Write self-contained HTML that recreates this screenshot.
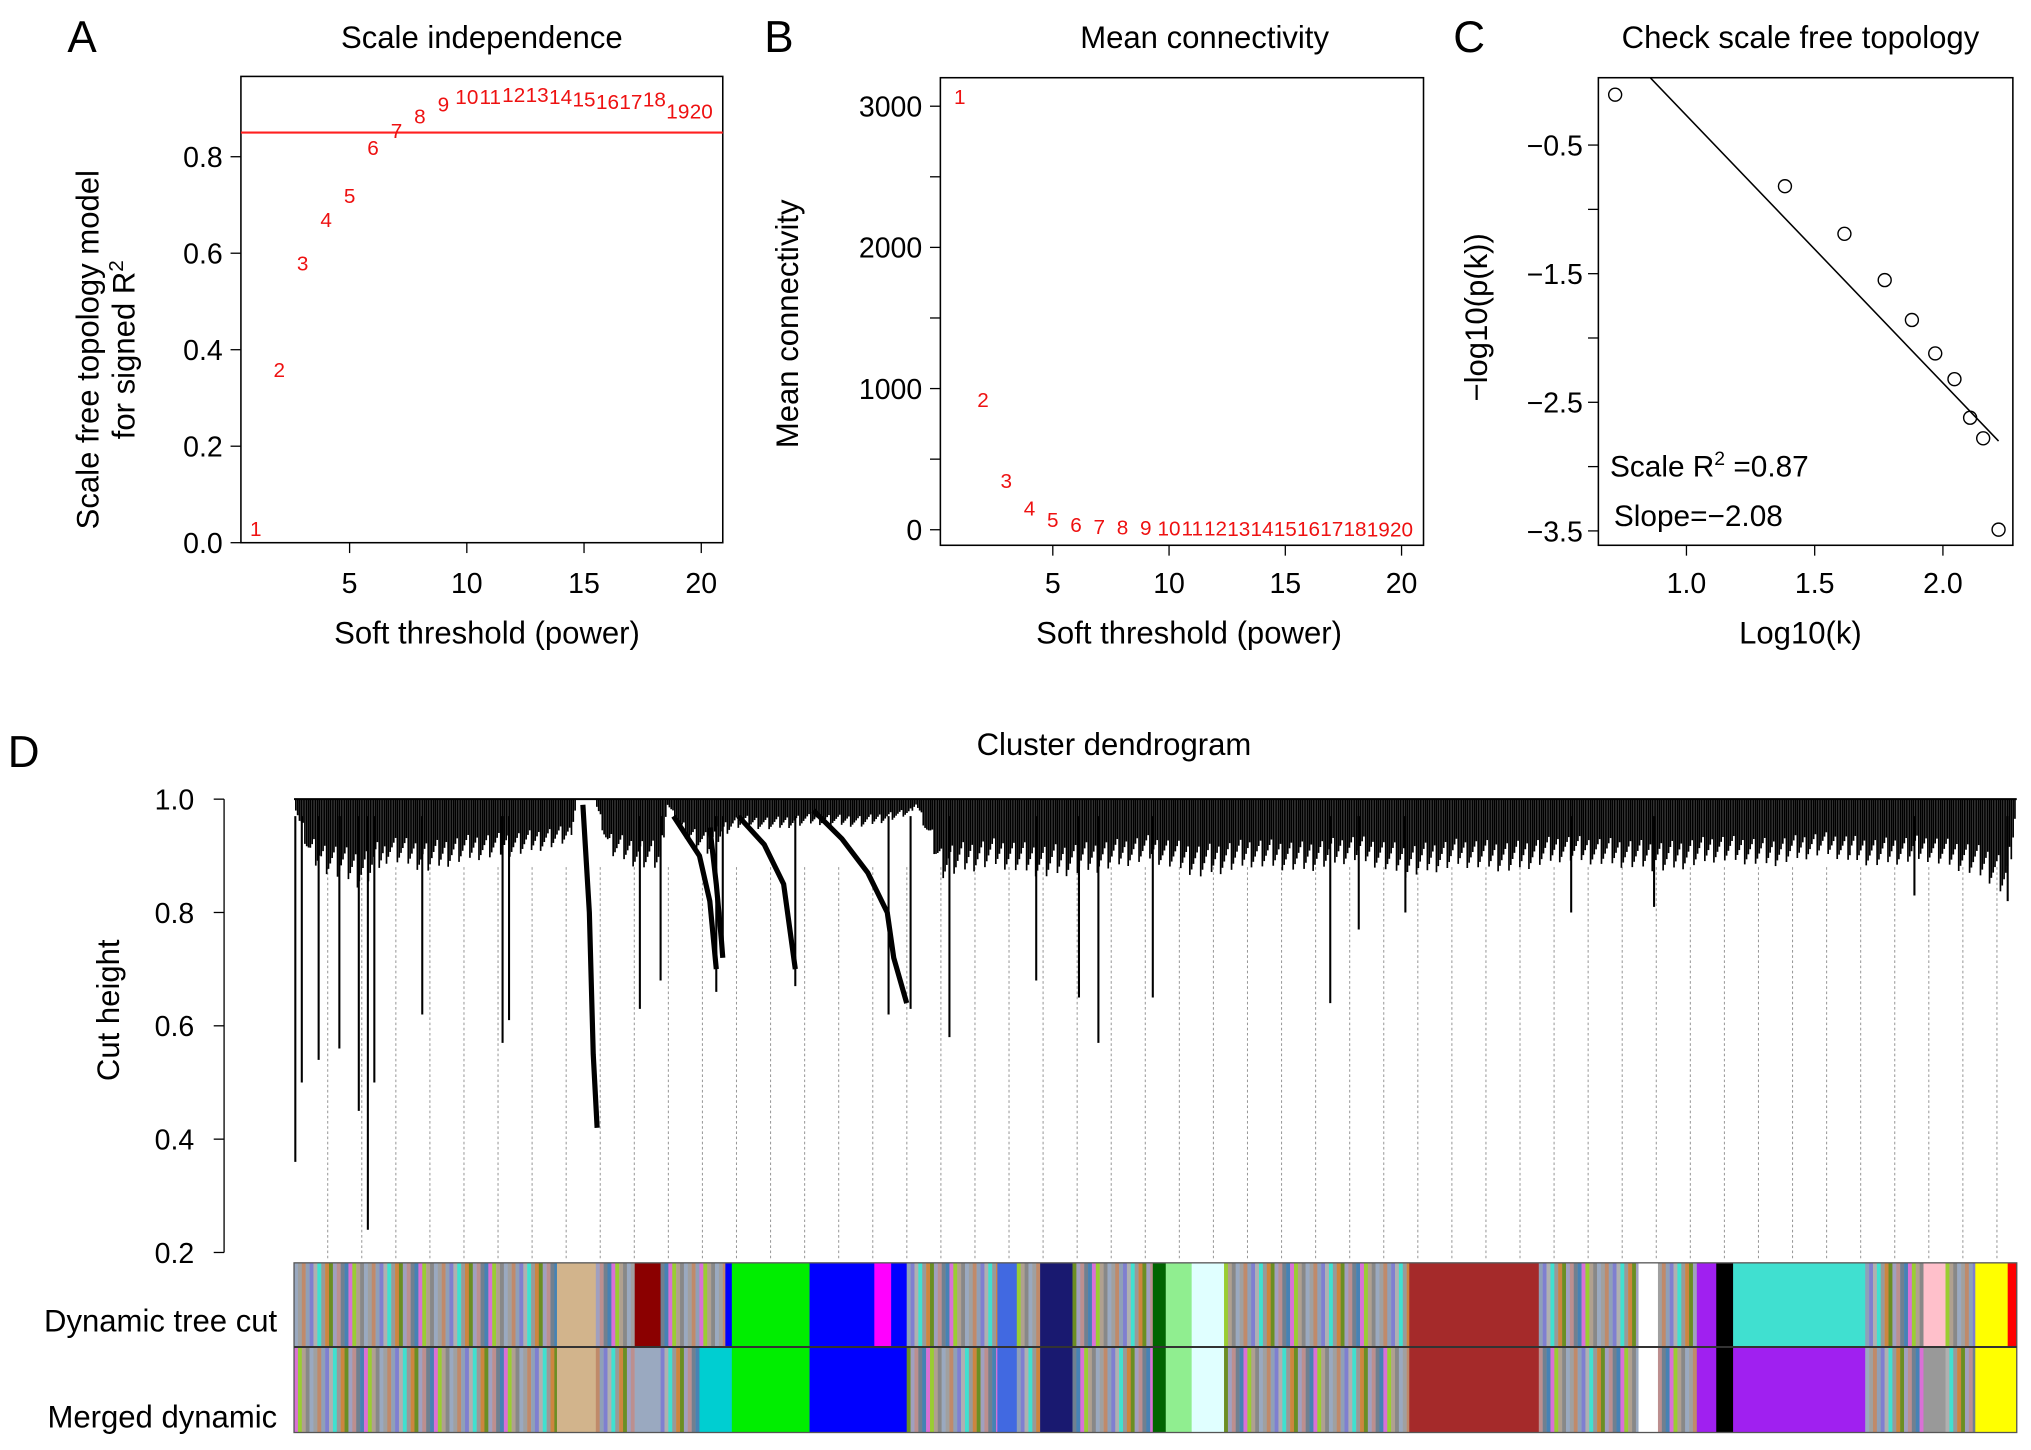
<!DOCTYPE html>
<html><head><meta charset="utf-8"><style>
html,body{margin:0;padding:0;background:#fff;}
svg{display:block;font-family:"Liberation Sans",Arial,sans-serif;}
</style></head><body>
<svg id="fig" width="2031" height="1450" viewBox="0 0 1568 1119.5" preserveAspectRatio="none" xmlns="http://www.w3.org/2000/svg">
<rect width="1568" height="1120" fill="#fff"/>
<g id="gA"></g>
<g id="gB"></g>
<g id="gC"></g>
<g id="gD"></g>
</svg>
<script>
// ---- data ----
const powers = [1,2,3,4,5,6,7,8,9,10,11,12,13,14,15,16,17,18,19,20];
const sftR2 = [0.03,0.36,0.58,0.67,0.72,0.82,0.855,0.885,0.91,0.925,0.925,0.93,0.93,0.925,0.92,0.915,0.915,0.92,0.895,0.895];
const meanK = [3070,925,350,155,75,40,25,20,17,15,14,13,12,11,10,10,9,9,8,8];
const logK = [0.722,1.384,1.616,1.773,1.879,1.97,2.045,2.106,2.157,2.217];
const logPk = [-0.108,-0.82,-1.19,-1.55,-1.86,-2.12,-2.32,-2.62,-2.78,-3.49];
const fitIntercept = 1.81;
const fitSlope = -2.08;
const r2Cut = 0.85;
const aYTicks = [0,0.2,0.4,0.6,0.8];
const aXTicks = [5,10,15,20];
const bYTicks = [0,1000,2000,3000];
const cYTicks = [-0.5,-1.5,-2.5,-3.5];
const cXTicks = [1.0,1.5,2.0];
const dYTicks = [0.2,0.4,0.6,0.8,1.0];
// dendrogram deep spikes: leaf coordinate (0..1330) and min height
const spikeLeaf = [1,6,19,35,50,57,62,99,161,166,267,283,326,331,387,459,476,506,573,606,621,663,800,822,858,986,1050,1251,1323];
const spikeHeight = [0.36,0.5,0.54,0.56,0.45,0.24,0.5,0.62,0.57,0.61,0.63,0.68,0.66,0.73,0.67,0.62,0.63,0.58,0.68,0.65,0.57,0.65,0.64,0.77,0.8,0.8,0.81,0.83,0.82];
// dendrogram envelope (leaf coordinate, lower height of dense mass)
const envLeaf = [0,13,33,53,73,103,133,173,213,218,222,233,243,263,283,288,300,320,335,345,370,400,440,475,480,500,540,580,620,660,700,740,780,820,860,900,940,980,1020,1060,1100,1140,1180,1220,1260,1290,1310,1323,1330];
const envHeight = [0.99,0.88,0.86,0.84,0.89,0.87,0.89,0.9,0.92,0.99,1.0,0.99,0.9,0.88,0.87,0.99,0.93,0.9,0.94,0.95,0.945,0.955,0.95,0.97,0.99,0.86,0.88,0.86,0.87,0.89,0.86,0.88,0.87,0.89,0.86,0.88,0.87,0.89,0.88,0.87,0.89,0.88,0.9,0.88,0.89,0.87,0.85,0.82,0.99];
// color block segments [start leaf, end leaf, top color, bottom color] ('S' = striped)
const blockStart = [0,203,233,263,283,313,333,338,398,448,461,473,543,558,576,601,663,673,693,718,861,961,1038,1053,1083,1098,1111,1213,1258,1275,1298,1323];
const blockEnd   = [203,233,263,283,313,333,338,398,448,461,473,543,558,576,601,663,673,693,718,861,961,1038,1053,1083,1098,1111,1213,1258,1275,1298,1323,1330];
const blockTop   = ['S','#d2b48c','S','#8b0000','S','S','#0000ff','#00ee00','#0000ff','#ff00ff','#0000ff','S','#4169e1','S','#191970','S','#006400','#90ee90','#e0ffff','S','#a52a2a','S','#ffffff','S','#a020f0','#000000','#40e0d0','S','#ffc0cb','S','#ffff00','#ff0000'];
const blockBot   = ['S','#d2b48c','S','#9aa9c0','S','#00ced1','#00ced1','#00ee00','#0000ff','#0000ff','#0000ff','S','#4169e1','S','#191970','S','#006400','#90ee90','#e0ffff','S','#a52a2a','S','#ffffff','S','#a020f0','#000000','#a020f0','S','#999999','S','#ffff00','#ffff00'];
const stripePalette = ['#9aa9c0','#a0a0a0','#c08a6a','#8fa0b8','#7f7fd0','#b0b0b0','#40e0d0','#999999','#cd853f','#6b8e23','#a0a0c0','#bc8f8f','#708090','#4682b4','#da70d6','#9acd32','#b0a090','#888888'];

const NS='http://www.w3.org/2000/svg';
function mk(parent,tag,attrs,text){const e=document.createElementNS(NS,tag);for(const k in attrs)e.setAttribute(k,attrs[k]);if(text!==undefined)e.textContent=text;parent.appendChild(e);return e;}

// ===== Panel A =====
(function(){
const g=document.getElementById('gA');
const L=186,R=558,T=59,B=419;
const sx=v=>197.5+(v-1)*18.1, sy=v=>419-v*372.5;
let e;
e=mk(g,'text',{x:52,y:40,'font-size':34});e.textContent='A';


e=mk(g,'text',{x:372,y:37,'font-size':24,'text-anchor':'middle'},'Scale independence');


e=mk(g,'rect',{x:L,y:T,width:R-L,height:B-T,fill:'none',stroke:'#000','stroke-width':1.2});


aYTicks.forEach(v=>{mk(g,'line',{x1:L-8,x2:L,y1:sy(v),y2:sy(v),stroke:'#000'});
 e=mk(g,'text',{x:L-14,y:sy(v)+8,'font-size':22,'text-anchor':'end'},v.toFixed(1));
 
 });
aXTicks.forEach(v=>{mk(g,'line',{x1:sx(v),x2:sx(v),y1:B,y2:B+8,stroke:'#000'});
 e=mk(g,'text',{x:sx(v),y:458,'font-size':22,'text-anchor':'middle'},String(v));
 
 });
e=mk(g,'text',{x:376,y:497,'font-size':24,'text-anchor':'middle'},'Soft threshold (power)');


e=mk(g,'text',{transform:'translate(76,270) rotate(-90)','font-size':24,'text-anchor':'middle'},'Scale free topology model');


e=mk(g,'text',{transform:'translate(104,270) rotate(-90)','font-size':24,'text-anchor':'middle'});
e.innerHTML='for signed R<tspan font-size="16" dy="-9">2</tspan>';


e=mk(g,'line',{x1:L,x2:R,y1:sy(r2Cut),y2:sy(r2Cut),stroke:'#ff2020','stroke-width':1.6});


powers.forEach((p,i)=>{e=mk(g,'text',{x:sx(p),y:sy(sftR2[i])+6,'font-size':16,fill:'#ee1111','text-anchor':'middle'},String(p));
 
 });
})();

// ===== Panel B =====
(function(){
const g=document.getElementById('gB');
const L=726,R=1099,T=60,B=421;
const sx=v=>741+(v-1)*17.95, sy=v=>409-v*0.109;
let e;
e=mk(g,'text',{x:590,y:40,'font-size':34},'B');


e=mk(g,'text',{x:930,y:37,'font-size':24,'text-anchor':'middle'},'Mean connectivity');


e=mk(g,'rect',{x:L,y:T,width:R-L,height:B-T,fill:'none',stroke:'#000','stroke-width':1.2});


for(let v=0;v<=3000;v+=500)mk(g,'line',{x1:L-8,x2:L,y1:sy(v),y2:sy(v),stroke:'#000'});
bYTicks.forEach(v=>{e=mk(g,'text',{x:L-14,y:sy(v)+8,'font-size':22,'text-anchor':'end'},String(v));
 
 });
aXTicks.forEach(v=>{mk(g,'line',{x1:sx(v),x2:sx(v),y1:B,y2:B+8,stroke:'#000'});
 e=mk(g,'text',{x:sx(v),y:458,'font-size':22,'text-anchor':'middle'},String(v));
 
 });
e=mk(g,'text',{x:918,y:497,'font-size':24,'text-anchor':'middle'},'Soft threshold (power)');


e=mk(g,'text',{transform:'translate(616,250) rotate(-90)','font-size':24,'text-anchor':'middle'},'Mean connectivity');


powers.forEach((p,i)=>{e=mk(g,'text',{x:sx(p),y:sy(meanK[i])+6,'font-size':16,fill:'#ee1111','text-anchor':'middle'},String(p));
 
 });
})();

// ===== Panel C =====
(function(){
const g=document.getElementById('gC');
const L=1234,R=1554,T=60,B=421;
const sx=v=>1302+(v-1)*198, sy=v=>112-(v+0.5)*99.3;
let e;
e=mk(g,'text',{x:1122,y:40,'font-size':34},'C');


e=mk(g,'text',{x:1390,y:37,'font-size':24,'text-anchor':'middle'},'Check scale free topology');


e=mk(g,'rect',{x:L,y:T,width:R-L,height:B-T,fill:'none',stroke:'#000','stroke-width':1.2});


for(let v=-0.5;v>=-3.5;v-=0.5)mk(g,'line',{x1:L-8,x2:L,y1:sy(v),y2:sy(v),stroke:'#000'});
cYTicks.forEach(v=>{e=mk(g,'text',{x:L-12,y:sy(v)+8,'font-size':22,'text-anchor':'end'},(v<0?'\u2212':'')+Math.abs(v).toFixed(1));
 
 });
cXTicks.forEach(v=>{mk(g,'line',{x1:sx(v),x2:sx(v),y1:B,y2:B+8,stroke:'#000'});
 e=mk(g,'text',{x:sx(v),y:458,'font-size':22,'text-anchor':'middle'},v.toFixed(1));
 
 });
e=mk(g,'text',{x:1390,y:497,'font-size':24,'text-anchor':'middle'},'Log10(k)');


e=mk(g,'text',{transform:'translate(1148,245) rotate(-90)','font-size':24,'text-anchor':'middle'},'\u2212log10(p(k))');


const x0=logK[0]-0.02, x1=logK[logK.length-1];
let ya=fitIntercept+fitSlope*x0, xa=x0;
const yTop=-0.5+(112-T)/99.3;
if(ya>yTop){ya=yTop;xa=(yTop-fitIntercept)/fitSlope;}
e=mk(g,'line',{x1:sx(xa),y1:sy(ya),x2:sx(x1),y2:sy(fitIntercept+fitSlope*x1),stroke:'#000','stroke-width':1.2});


logK.forEach((v,i)=>{e=mk(g,'circle',{cx:sx(v),cy:sy(logPk[i]),r:5,fill:'none',stroke:'#000','stroke-width':1.1});
 
 });
e=mk(g,'text',{x:1243,y:368,'font-size':23});
e.innerHTML='Scale R<tspan font-size="15" dy="-9">2</tspan><tspan dy="9"> =0.87</tspan>';


e=mk(g,'text',{x:1246,y:406,'font-size':23},'Slope=\u22122.08');


})();

// ===== Panel D =====
(function(){
const g=document.getElementById('gD');
const X0=227, sy=v=>617-(v-1)*437.5, sx=l=>X0+l;
let e;
e=mk(g,'text',{x:6,y:592,'font-size':34},'D');


e=mk(g,'text',{x:860,y:583,'font-size':24,'text-anchor':'middle'},'Cluster dendrogram');


e=mk(g,'line',{x1:173,x2:173,y1:sy(1),y2:sy(0.2),stroke:'#000'});


dYTicks.forEach(v=>{mk(g,'line',{x1:165,x2:173,y1:sy(v),y2:sy(v),stroke:'#000'});
 e=mk(g,'text',{x:150,y:sy(v)+8,'font-size':22,'text-anchor':'end'},v.toFixed(1));
 
 });
e=mk(g,'text',{transform:'translate(92,780) rotate(-90)','font-size':24,'text-anchor':'middle'},'Cut height');


for(let x=253;x<1545;x+=26.3){mk(g,'line',{x1:x,x2:x,y1:sy(0.88),y2:972,stroke:'#999','stroke-width':0.8,'stroke-dasharray':'2,2'});}
mk(g,'line',{x1:X0,x2:1557,y1:sy(1),y2:sy(1),stroke:'#000','stroke-width':1.5});
function env(l){for(let i=1;i<envLeaf.length;i++){if(l<=envLeaf[i]){const a=envLeaf[i-1],b=envLeaf[i];const t=(l-a)/(b-a||1);return envHeight[i-1]+(envHeight[i]-envHeight[i-1])*t;}}return 0.99;}
const leaves=mk(g,'g',{stroke:'#000','stroke-width':1.3});


for(let l=0;l<1330;l+=1.4){
 const h=env(l); if(h>=0.99) continue;
 const k=Math.floor(l/1.4);
 const tex=((k*37)%17)/17;
 const d=h+(1-h)*tex*0.45;
 mk(leaves,'line',{x1:sx(l),x2:sx(l),y1:sy(1),y2:sy(d)});
}
spikeLeaf.forEach((l,i)=>{e=mk(g,'line',{x1:sx(l),x2:sx(l),y1:sy(0.97),y2:sy(spikeHeight[i]),stroke:'#000','stroke-width':1.6});
 
 });
const curves=[[[450,0.99],[455,0.8],[458,0.55],[461,0.42]],[[548,0.95],[553,0.85],[557,0.75],[558,0.72]],[[570,0.97],[590,0.92],[605,0.85],[614,0.7]],[[628,0.98],[650,0.93],[670,0.87],[685,0.8],[690,0.72],[700,0.64]],[[520,0.97],[540,0.9],[548,0.82],[553,0.7]]];
curves.forEach(c=>{e=mk(g,'polyline',{points:c.map(p=>sx(p[0]-X0)+','+sy(p[1])).join(' '),fill:'none',stroke:'#000','stroke-width':4});
 
 });
const yT=975,yM=1040,yB=1106;
let si=0;
blockStart.forEach((s,i)=>{const w=blockEnd[i]-s;
 [[blockTop[i],yT,yM],[blockBot[i],yM,yB]].forEach(([c,y1,y2])=>{
  if(c==='S'){for(let x=s;x<blockEnd[i];x+=3){mk(g,'rect',{x:sx(x),y:y1,width:3.2,height:y2-y1,fill:stripePalette[si++%stripePalette.length]});}}
  else mk(g,'rect',{x:sx(s),y:y1,width:w+0.3,height:y2-y1,fill:c});
 });});
e=mk(g,'rect',{x:X0,y:yT,width:1330,height:yB-yT,fill:'none',stroke:'#555','stroke-width':1});


mk(g,'line',{x1:X0,x2:1557,y1:yM,y2:yM,stroke:'#333','stroke-width':1.5});
e=mk(g,'text',{x:214,y:1028,'font-size':24,'text-anchor':'end'},'Dynamic tree cut');


e=mk(g,'text',{x:214,y:1102,'font-size':24,'text-anchor':'end'},'Merged dynamic');


})();
</script>
</body></html>
